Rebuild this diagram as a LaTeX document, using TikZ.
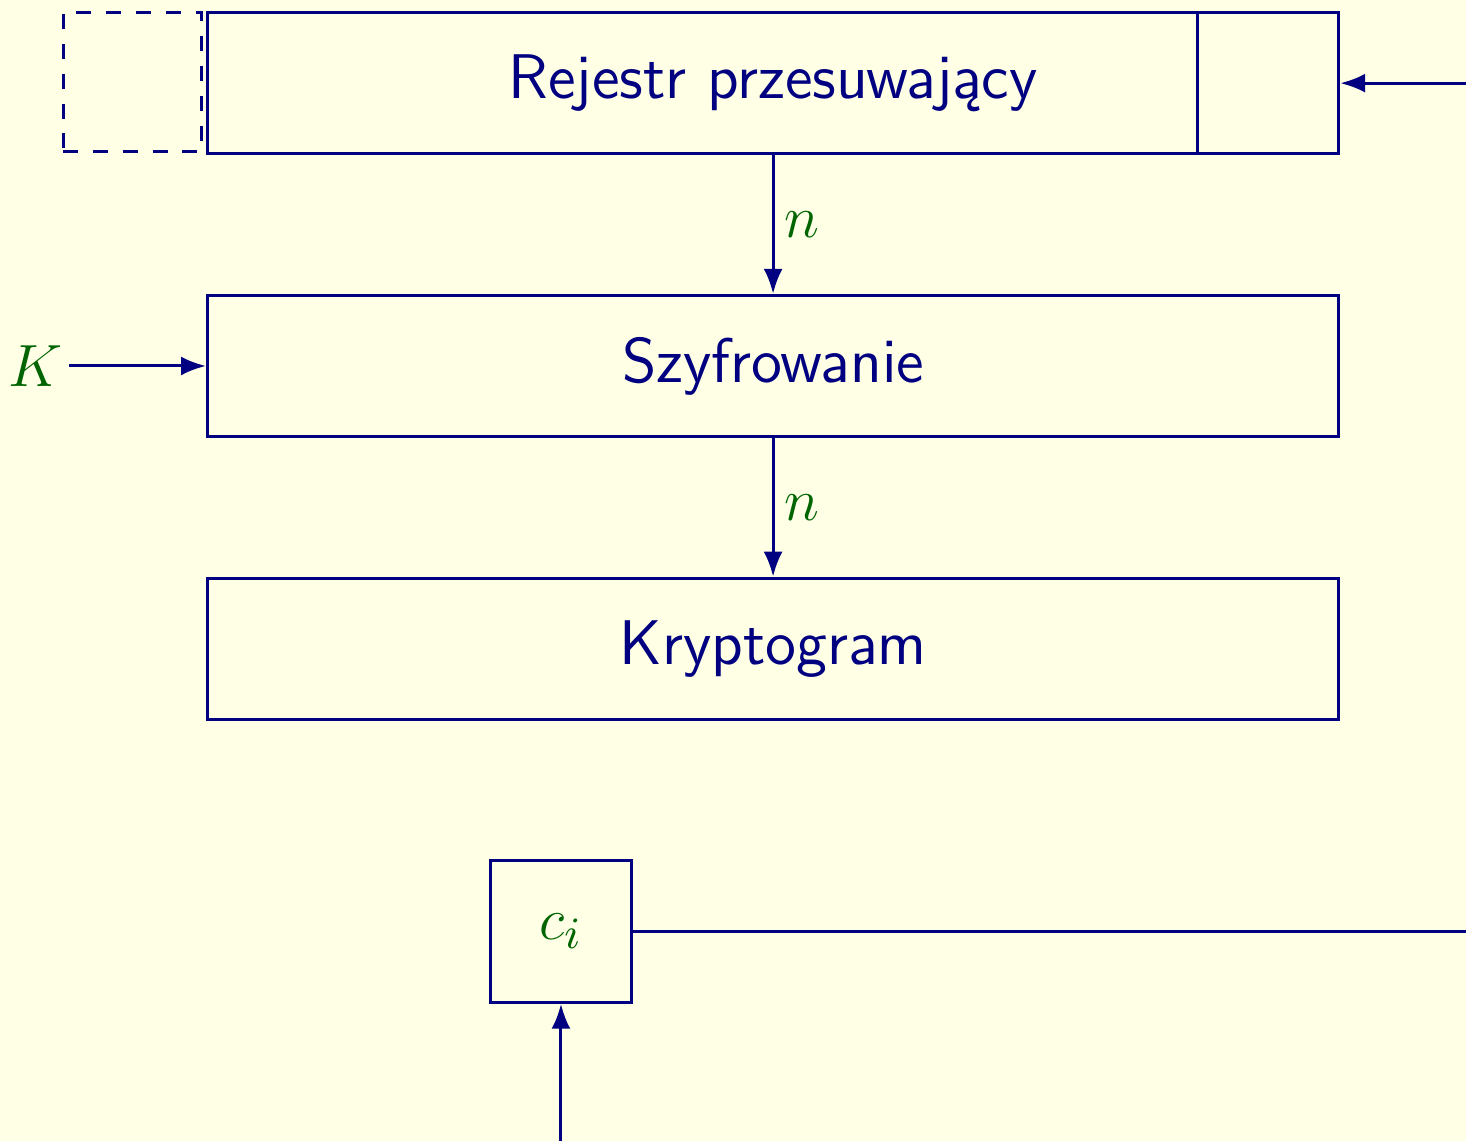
\documentclass[tikz,border=0pt]{standalone}
\usetikzlibrary{arrows.meta}

\definecolor{ramka}{RGB}{0,0,128}
\definecolor{zielen}{RGB}{0,100,0}
\definecolor{tlo}{RGB}{255,255,230}

\begin{document}
\begin{tikzpicture}[
    >={Latex[length=5pt,width=3.8pt]},
    linia/.style={draw=ramka, semithick},
    blok/.style={linia, minimum width=8cm, minimum height=1cm, inner sep=0pt,
                 font=\sffamily\fontsize{12.7}{15}\selectfont, text=ramka},
    kom/.style={linia, minimum width=1cm, minimum height=1cm, inner sep=0pt},
    etyk/.style={text=zielen, font=\fontsize{12.4}{15}\selectfont, inner sep=2pt}
]
    % Frame of the slide, lines leaving it are cut off
    \def\xl{-1.467}
    \def\xr{8.9}
    \def\yt{0.088}
    \def\yb{-7.98}
    \fill[tlo] (\xl,\yt) rectangle (\xr,\yb);
    \clip (\xl,\yt) rectangle (\xr,\yb);

    % Shift register with its last cell and the empty slot on the left
    \node[blok] (rej) at (4,-0.5) {Rejestr przesuwający};
    \node[kom] (ost) at (7.5,-0.5) {};
    \node[kom, dashed, minimum width=0.98cm, minimum height=0.98cm] (wolne) at (-0.53,-0.49) {};

    % Encryption and output block
    \node[blok] (szyfr) at (4,-2.5) {Szyfrowanie};
    \node[blok] (krypt) at (4,-4.5) {Kryptogram};

    % Single ciphertext unit
    \node[kom, etyk] (ci) at (2.5,-6.5) {$c_i$};

    % Key input
    \node[etyk, anchor=east, inner sep=1pt] (K) at (-0.98,-2.5) {$K$};

    % Loose ends of the feedback lines
    \coordinate (powrot) at (9.5,-0.5);
    \coordinate (wyjscie) at (9.5,-6.5);
    \coordinate (wejscie) at (2.5,-8.5);

    % Connections
    \draw[linia,->] (rej) -- (szyfr) node[etyk, midway, right] (n1) {$n$};
    \draw[linia,->] (szyfr) -- (krypt) node[etyk, midway, right] (n2) {$n$};
    \draw[linia,->] (K) -- (szyfr);
    \draw[linia,->] (powrot) -- (rej.east);
    \draw[linia] (ci) -- (wyjscie);
    \draw[linia,->] (wejscie) -- (ci);
\end{tikzpicture}
\end{document}
